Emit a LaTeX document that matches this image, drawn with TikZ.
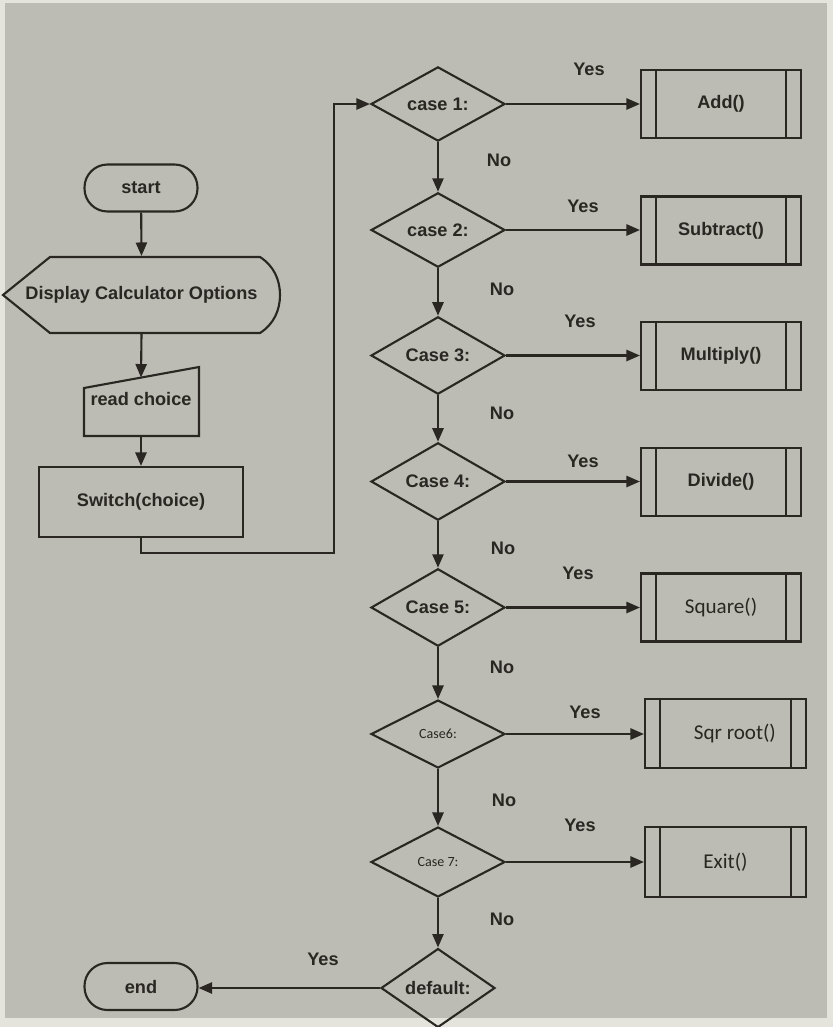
\documentclass[tikz,border=0pt]{standalone}
\usepackage{fontspec}
\setmainfont{Liberation Sans}
\newfontfamily\procfont{Carlito}
\usetikzlibrary{arrows.meta,shapes.geometric}
\newcommand{\pxl}{0.03cm}
\definecolor{ink}{HTML}{2A2622}
\definecolor{paper}{HTML}{BCBCB5}
\definecolor{rim}{HTML}{E4E4DC}
\begin{document}
\begin{tikzpicture}[x=0.03cm,y=-0.03cm,
  line width=1.8pt, draw=ink, text=ink,
  lbl/.style={font=\fontsize{15.5}{18}\selectfont\bfseries},
  term/.style={draw, rounded corners=23*\pxl, minimum width=113*\pxl, minimum height=47*\pxl, inner sep=0pt, lbl},
  decide/.style={draw, diamond, minimum width=134*\pxl, minimum height=68*\pxl, inner sep=0pt, lbl},
  subproc/.style={draw, rectangle, minimum width=160*\pxl, minimum height=68*\pxl, inner sep=0pt},
  light/.style={font=\procfont\fontsize{18}{21}\selectfont},
  arr/.style={-{Triangle[length=11.5pt,width=9.5pt]}},
  ans/.style={lbl}]
% paper
\fill[rim] (0,0) rectangle (833,1027);
\fill[paper] (5,3) rectangle (827,1018);
\useasboundingbox (0,0) rectangle (833,1027);

% left column
\node[term] (start) at (141,188) {start};
\draw (50,257) -- (260,257) .. controls (274,266) and (280,280) .. (280,295)
      .. controls (280,310) and (274,324) .. (260,333) -- (50,333) -- (3,295) -- cycle;
\node[minimum width=277*\pxl, minimum height=76*\pxl, inner sep=0pt, lbl] (disp) at (141.5,295) {Display Calculator Options};
\draw (84,388) -- (199,367) -- (199,436) -- (84,436) -- cycle;
\coordinate (rdtop) at (141,377.5);
\node[lbl] (read) at (141,399) {read choice};
\coordinate (rdbot) at (141,436);
\node[draw, minimum width=204*\pxl, minimum height=70*\pxl, inner sep=0pt, lbl] (sw) at (141,502) {Switch(choice)};

\draw[arr] (start) -- (disp.north);
\draw[arr] (disp.south) -- (rdtop);
\draw[arr] (rdbot) -- (sw.north);

% decisions
\node[decide] (c1) at (438,104) {case 1:};
\node[decide] (c2) at (438,230) {case 2:};
\node[decide] (c3) at (438,355.5) {Case 3:};
\node[decide] (c4) at (438,481.5) {Case 4:};
\node[decide] (c5) at (438,607.5) {Case 5:};
\node[decide, font=\procfont\fontsize{12}{14}\selectfont] (c6) at (438,734) {Case6:};
\node[decide, font=\procfont\fontsize{12}{14}\selectfont, minimum height=70*\pxl] (c7) at (438,862) {Case 7:};
\node[decide, minimum width=114*\pxl, minimum height=72*\pxl] (dflt) at (438,988) {default:};

% routines
\node[subproc, lbl] (b1) at (721,104) {Add()};
\node[subproc, lbl] (b2) at (721,230.5) {Subtract()};
\node[subproc, lbl] (b3) at (721,356) {Multiply()};
\node[subproc, lbl] (b4) at (721,482) {Divide()};
\node[subproc, light] (b5) at (721,607.5) {Square()};
\node[subproc, light, minimum width=161*\pxl, minimum height=69*\pxl] (b6) at (725.5,733.5) {\hspace*{16pt}Sqr root()};
\node[subproc, light, minimum width=161*\pxl, minimum height=70*\pxl] (b7) at (725.5,862) {Exit()};
\foreach \b in {b1,b2,b3,b4,b5,b6,b7}{
  \draw ([xshift=16*\pxl]\b.north west) -- ([xshift=16*\pxl]\b.south west);
  \draw ([xshift=-16*\pxl]\b.north east) -- ([xshift=-16*\pxl]\b.south east);
}

\node[term] (end) at (141,986.5) {end};

% switch to first case
\coordinate (bendA) at (141,553);
\coordinate (bendB) at (334,553);
\draw[arr] (sw.south) -- (bendA) -- (bendB) |- (c1.west);

% yes branches
\foreach \c/\b in {c1/b1,c2/b2,c3/b3,c4/b4,c5/b5,c6/b6,c7/b7}
  \draw[arr] (\c.east) -- (\b.west |- \c.east);
\draw[arr] (dflt.west) -- (end.east |- dflt.west);

% no branches
\foreach \a/\b in {c1/c2,c2/c3,c3/c4,c4/c5,c5/c6,c6/c7,c7/dflt}
  \draw[arr] (\a.south) -- (\b.north);

% labels
\node[ans] (y1) at (589,69) {Yes};
\node[ans] (y2) at (583,206) {Yes};
\node[ans] (y3) at (580,321) {Yes};
\node[ans] (y4) at (583,461) {Yes};
\node[ans] (y5) at (578,573) {Yes};
\node[ans] (y6) at (585,712) {Yes};
\node[ans] (y7) at (580,825) {Yes};
\node[ans] (y8) at (323,959) {Yes};
\node[ans] (n1) at (499,160) {No};
\node[ans] (n2) at (502,289) {No};
\node[ans] (n3) at (502,413) {No};
\node[ans] (n4) at (503,548) {No};
\node[ans] (n5) at (502,667) {No};
\node[ans] (n6) at (504,800) {No};
\node[ans] (n7) at (502,919) {No};
\end{tikzpicture}
\end{document}
